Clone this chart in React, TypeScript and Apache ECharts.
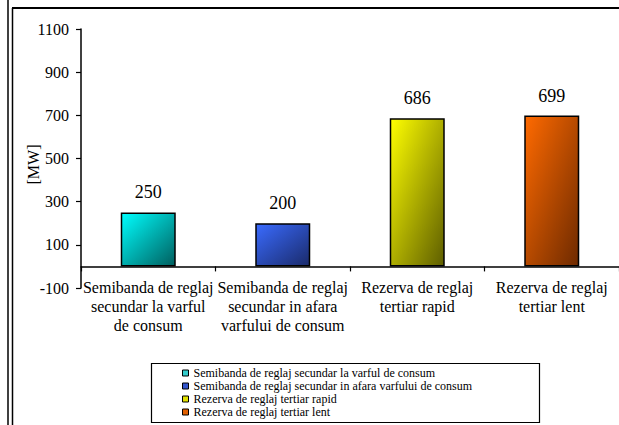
import React, { useEffect, useRef } from "react";
import * as echarts from "echarts";

const categories = [
  "Semibanda de reglaj\nsecundar la varful\nde consum",
  "Semibanda de reglaj\nsecundar in afara\nvarfului de consum",
  "Rezerva de reglaj\ntertiar rapid",
  "Rezerva de reglaj\ntertiar lent",
];
const values = [250, 200, 686, 699];
const yTicks = [-100, 100, 300, 500, 700, 900, 1100];
const lightColors = ["#00FFFF", "#3A6BFF", "#FFFF00", "#FF6A00"];
const darkColors = ["#005E5E", "#1A2A6A", "#5E5E00", "#6E2A00"];
const legendColors = ["#33CCCC", "#3355CC", "#E0E000", "#E06000"];

const FONT = '"Liberation Serif", "Times New Roman", "DejaVu Serif", serif';

export default function App() {
  const ref = useRef<HTMLDivElement>(null);
  useEffect(() => {
    if (!ref.current) return;
    const chart = echarts.init(ref.current, null, { renderer: "svg" });
    const names = categories.map((c) => c.replace(/\n/g, " "));
    const series = names.map((name, i) => ({
      name,
      type: "bar",
      stack: "all",
      barWidth: 55,
      data: categories.map((_, j) => (j === i ? values[i] : "-")),
      itemStyle: {
        color: new echarts.graphic.LinearGradient(0, 0, 1, 1, [
          { offset: 0, color: lightColors[i] },
          { offset: 1, color: darkColors[i] },
        ]),
        borderColor: "#000",
        borderWidth: 1.5,
      },
      label: {
        show: true,
        position: "top",
        distance: 11,
        color: "#000",
        fontSize: 18,
        fontFamily: FONT,
      },
    }));
    chart.setOption({
      animation: false,
      backgroundColor: "#fff",
      textStyle: { fontFamily: FONT },
      grid: { left: 81, top: 29, width: 542, height: 259, containLabel: false },
      xAxis: {
        type: "category",
        data: categories,
        axisLine: { onZero: true, lineStyle: { color: "#000", width: 1.5 } },
        axisTick: { show: true, length: 5, lineStyle: { color: "#000", width: 1.2 } },
        axisLabel: {
          interval: 0,
          hideOverlap: false,
          color: "#000",
          fontSize: 16,
          lineHeight: 19,
          margin: -10,
          fontFamily: FONT,
        },
        splitLine: { show: false },
      },
      yAxis: {
        type: "value",
        min: -100,
        max: 1100,
        name: "[MW]",
        nameLocation: "middle",
        nameGap: 40,
        nameMoveOverlap: false,
        nameRotate: 90,
        nameTextStyle: { color: "#000", fontSize: 16, fontFamily: FONT, padding: [0, 12, 0, 0] },
        axisLine: { show: true, lineStyle: { color: "#000", width: 1.5 } },
        axisTick: { show: true, length: 5, customValues: yTicks, lineStyle: { color: "#000", width: 1.2 } },
        axisLabel: {
          customValues: yTicks,
          formatter: (v: number) => String(v),
          color: "#000",
          fontSize: 16,
          margin: 12,
          fontFamily: FONT,
        },
        splitLine: { show: false },
      },
      legend: {
        orient: "vertical",
        left: 182,
        top: 367,
        padding: 0,
        itemWidth: 6,
        itemHeight: 6,
        itemGap: 1,
        icon: "rect",
        data: names.map((n, i) => ({
          name: n,
          itemStyle: { color: legendColors[i], borderColor: "#000", borderWidth: 1 },
        })),
        textStyle: { color: "#000", fontSize: 12, lineHeight: 11, fontFamily: FONT },
        selectedMode: false,
      },
      graphic: [
        { type: "line", shape: { x1: 8, y1: 0, x2: 8, y2: 425 }, style: { stroke: "#000", lineWidth: 1.5 } },
        { type: "line", shape: { x1: 12.5, y1: 8, x2: 12.5, y2: 425 }, style: { stroke: "#000", lineWidth: 1.5 } },
        { type: "line", shape: { x1: 12, y1: 8, x2: 619, y2: 8 }, style: { stroke: "#000", lineWidth: 2 } },
        {
          type: "rect",
          shape: { x: 151.5, y: 363.5, width: 388, height: 59 },
          style: { fill: "none", stroke: "#000", lineWidth: 1.2 },
        },
      ],
      series,
    });
    return () => chart.dispose();
  }, []);
  return (
    <div
      ref={ref}
      style={{ position: "fixed", left: 0, top: 0, width: 619, height: 425 }}
    />
  );
}
